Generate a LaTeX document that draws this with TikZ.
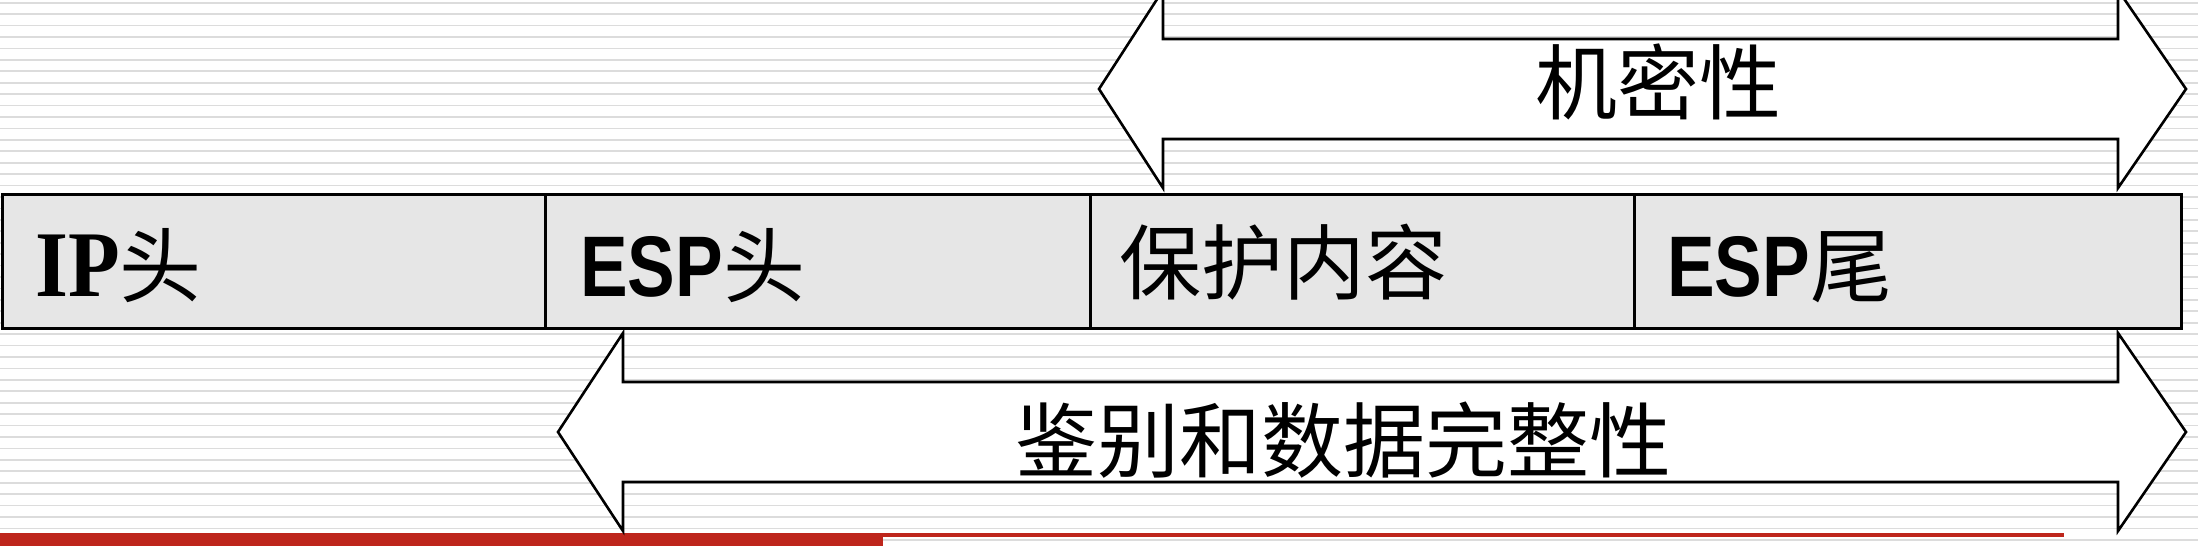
\documentclass[tikz,border=0pt]{standalone}
\usepackage{fontspec}
\newfontfamily\cjk{Noto Sans CJK SC}
\newfontfamily\espfont[FakeStretch=0.83]{Liberation Sans}
\newfontfamily\ipfont[FakeStretch=0.9]{Liberation Serif}
\definecolor{stripegray}{RGB}{220,220,220}
\definecolor{cellgray}{RGB}{230,230,230}
\definecolor{barred}{RGB}{190,38,28}
\tikzset{
  stripe/.style={draw=stripegray, line width=1.7pt},
  cell/.style={draw=black, fill=cellgray, line width=3pt, minimum height=134pt, inner sep=0pt, anchor=north west},
  bigarrow/.style={draw=black, fill=white, line width=2.6pt, line join=miter},
  lbl/.style={inner sep=0pt, anchor=base west, text=black},
}
\newcommand{\espt}{\espfont\bfseries\fontsize{86}{90}\selectfont}
\newcommand{\ipt}{\ipfont\bfseries\fontsize{94}{96}\selectfont}
\newcommand{\cjkt}{\cjk\mdseries\fontsize{82}{90}\selectfont}
\begin{document}
\begin{tikzpicture}[x=1pt,y=-1pt]
\clip (0,0) rectangle (2198,546);
\fill[white] (0,0) rectangle (2198,546);
% background stripes
\foreach \i in {0,...,47}{
  \pgfmathsetmacro{\yy}{2.7+11.43*\i}
  \draw[stripe] (0,\yy) -- (2198,\yy);
}
% red footer
\fill[barred] (0,533) rectangle (883,546);
\fill[barred] (883,533) rectangle (2064,536.5);
% top arrow (confidentiality)
\draw[bigarrow] (1099,89) -- (1163,-10) -- (1163,39) -- (2118,39) -- (2118,-10)
  -- (2186,89) -- (2118,188) -- (2118,139) -- (1163,139) -- (1163,188) -- cycle;
% bottom arrow (authentication and integrity)
\draw[bigarrow] (558,432) -- (623,333) -- (623,382) -- (2118,382) -- (2118,333)
  -- (2186,432) -- (2118,531) -- (2118,482) -- (623,482) -- (623,531) -- cycle;
% packet cells
\node[cell, minimum width=543pt] (c1) at (1,193) {};
\node[cell, minimum width=545pt] (c2) at (544,193) {};
\node[cell, minimum width=544pt] (c3) at (1089,193) {};
\node[cell, minimum width=547pt] (c4) at (1633,193) {};
% cell labels
\node[lbl] (t1) at (35,296) {\ipt IP{\cjkt 头}};
\node[lbl] (t2) at (580,296) {\espt ESP{\cjkt 头}};
\node[lbl] (t3) at (1119,293) {\cjkt 保护内容};
\node[lbl] (t4) at (1667,296) {\espt ESP{\cjkt 尾}};
% arrow labels
\node[lbl] (a1) at (1535,113) {\cjkt 机密性};
\node[lbl] (a2) at (1015,471) {\cjkt 鉴别和数据完整性};
\end{tikzpicture}
\end{document}
